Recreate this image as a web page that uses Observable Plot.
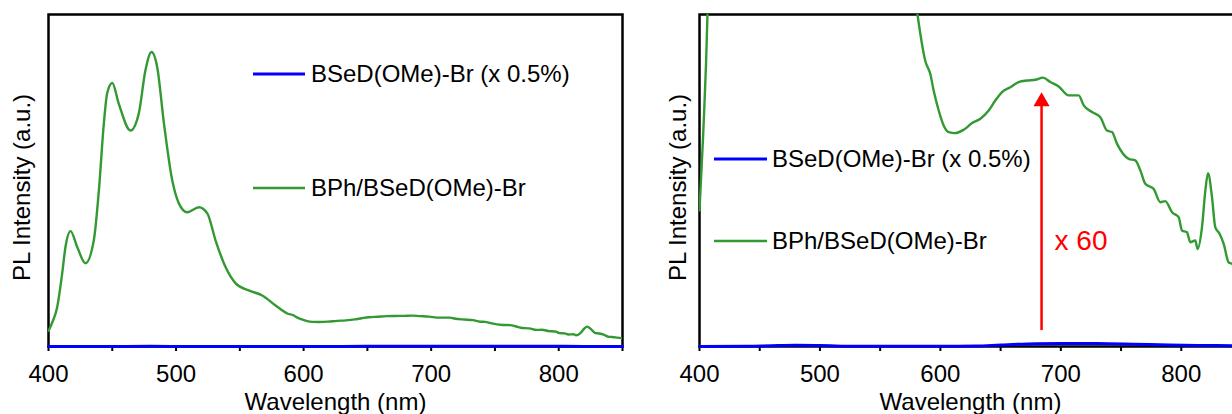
<!DOCTYPE html>
<html>
<head>
<meta charset="utf-8">
<script src="https://cdn.jsdelivr.net/npm/d3@7"></script>
<script src="https://cdn.jsdelivr.net/npm/@observablehq/plot@0.6"></script>
<style>
  html, body { margin: 0; padding: 0; background: #fff; overflow: hidden; width: 1232px; height: 414px; }
  #wrap { position: relative; width: 1232px; height: 414px; overflow: hidden; }
  #left { position: absolute; left: 0; top: 0; width: 650px; height: 414px; }
  #right { position: absolute; left: 640px; top: 0; width: 610px; height: 414px; }
  svg { font-family: "Liberation Sans", Arial, sans-serif; max-width: none !important; display: block; }
</style>
</head>
<body>
<div id="wrap"><div id="left"></div><div id="right"></div></div>
<script>
// Wavelength (nm) and PL intensity (a.u.) of BPh/BSeD(OMe)-Br
const greenWl = [400, 403, 406.8, 410.7, 413.3, 417.3, 422.5, 429, 435.5, 439.5, 443.4, 446, 450, 455, 464.3, 470.8, 476, 480.8, 485.2, 490.5, 497, 502.2, 508.7, 518, 524.5, 531, 538.8, 546.7, 557, 567.6, 578, 587.6, 591.7, 594.4, 598.6, 602.7, 606.9, 612.4, 619.3, 626.3, 633.2, 640.1, 645.6, 651.2, 658.1, 665, 672, 678.8, 685.2, 691.3, 698.2, 706.5, 714.8, 719, 725.9, 732.8, 738.3, 742.5, 746.6, 756.3, 761.8, 766, 770.1, 777, 782.6, 786.7, 792.3, 797.8, 800.6, 804.7, 807.5, 811.6, 813.6, 817.2, 820, 822.2, 825.5, 828.2, 831.8, 835.2, 839.3, 842.1, 846, 850];
const greenPL = [5.3, 8.2, 13.3, 24.7, 33.7, 39.1, 33.7, 28.2, 35.9, 52.9, 75.6, 85.8, 89.3, 82.4, 73.2, 79.0, 93.6, 99.8, 94.7, 75.6, 56.3, 48.5, 45.5, 47.2, 45.1, 35.9, 26.9, 21.4, 19.0, 17.3, 13.9, 11.1, 10.6, 9.97, 9.19, 8.61, 8.35, 8.31, 8.44, 8.70, 8.87, 9.19, 9.58, 9.91, 10.10, 10.30, 10.36, 10.39, 10.47, 10.30, 10.13, 9.78, 9.78, 9.39, 9.13, 8.93, 8.41, 8.35, 7.90, 7.31, 7.25, 6.86, 6.34, 6.14, 5.62, 5.66, 5.23, 5.04, 4.52, 4.45, 4.06, 4.13, 3.80, 4.65, 6.08, 6.75, 5.82, 4.65, 4.39, 4.00, 3.28, 3.22, 3.0, 2.8];
// BSeD(OMe)-Br (x 0.5%)
const blueWl = [400, 440, 460, 480, 500, 530, 560, 600, 630, 650, 680, 700, 730, 760, 790, 820, 850];
const bluePL = [0.0, 0.01, 0.03, 0.045, 0.035, 0.01, 0.005, 0.005, 0.02, 0.06, 0.11, 0.12, 0.115, 0.09, 0.06, 0.04, 0.03];
const seriesNames = ["BSeD(OMe)-Br (x 0.5%)", "BPh/BSeD(OMe)-Br"];
const xTicks = [400, 450, 500, 550, 600, 650, 700, 750, 800, 850];
const arrowWl = 684;
const arrowFrom = 0.62, arrowTo = 9.9;
const arrowText = "x 60";
const xLabel = "Wavelength (nm)";
const yLabel = "PL Intensity (a.u.)";

const green = greenWl.map((w, i) => ({w, v: greenPL[i]}));
const blue = blueWl.map((w, i) => ({w, v: bluePL[i]}));
const GREEN = "#339933", BLUE = "#0000ff", RED = "#ff0000";
const FS = 24;

function panel({width, marginLeft, marginRight, yMax, legend, extra = []}) {
  const plot = Plot.plot({
    width, height: 414,
    marginLeft, marginRight, marginTop: 14, marginBottom: 68,
    style: {fontSize: FS + "px", fontFamily: "'Liberation Sans', Arial, sans-serif", color: "#000", background: "#fff", maxWidth: "none"},
    x: {domain: [400, 850]},
    y: {domain: [0, yMax], axis: null},
    marks: [
      Plot.frame({stroke: "#000", strokeWidth: 2.5}),
      Plot.axisX({ticks: xTicks, tickSize: 5, tickPadding: 13, strokeWidth: 2,
        tickFormat: d => d % 100 === 0 ? String(d) : "", fontSize: FS, label: null}),
      Plot.line(green, {x: "w", y: "v", stroke: GREEN, strokeWidth: 2.4, curve: "monotone-x", clip: true}),
      Plot.line(blue, {x: "w", y: "v", stroke: BLUE, strokeWidth: 3, curve: "monotone-x"}),
      Plot.text([xLabel], {frameAnchor: "bottom", lineAnchor: "top", dy: 46, fontSize: FS}),
      Plot.text([yLabel], {frameAnchor: "left", textAnchor: "middle", rotate: -90, dx: legend.ylabDx, dy: 7, fontSize: FS}),
      ...extra
    ]
  });
  const svg = d3.select(plot);
  const cols = [BLUE, GREEN];
  seriesNames.forEach((name, i) => {
    const y = legend.ys[i];
    svg.append("line").attr("x1", legend.x1).attr("x2", legend.x2).attr("y1", y).attr("y2", y)
      .attr("stroke", cols[i]).attr("stroke-width", i === 0 ? 3 : 2.5);
    svg.append("text").attr("x", legend.tx).attr("y", y).attr("dy", "0.35em")
      .attr("text-anchor", "start").attr("font-size", FS).attr("fill", "#000").text(name);
  });
  return plot;
}

document.getElementById("left").appendChild(panel({
  width: 650, marginLeft: 48, marginRight: 28, yMax: 112.5,
  legend: {x1: 253, x2: 305, tx: 311, ys: [74, 188], ylabDx: -26}
}));

document.getElementById("right").appendChild(panel({
  width: 610, marginLeft: 59, marginRight: 9, yMax: 12.93,
  legend: {x1: 74, x2: 127, tx: 132, ys: [159, 241], ylabDx: -21},
  extra: [
    Plot.ruleX([arrowWl], {y1: arrowFrom, y2: arrowTo - 0.4, stroke: RED, strokeWidth: 2.5}),
    Plot.dot([arrowWl], {x: d => d, y: arrowTo, symbol: "triangle", r: 6, fill: RED, stroke: "none", dy: 9.3}),
    Plot.text([arrowText], {x: arrowWl, y: 4.1, text: d => d, dx: 13, textAnchor: "start", fill: RED, fontSize: 28})
  ]
}));
</script>
</body>
</html>
